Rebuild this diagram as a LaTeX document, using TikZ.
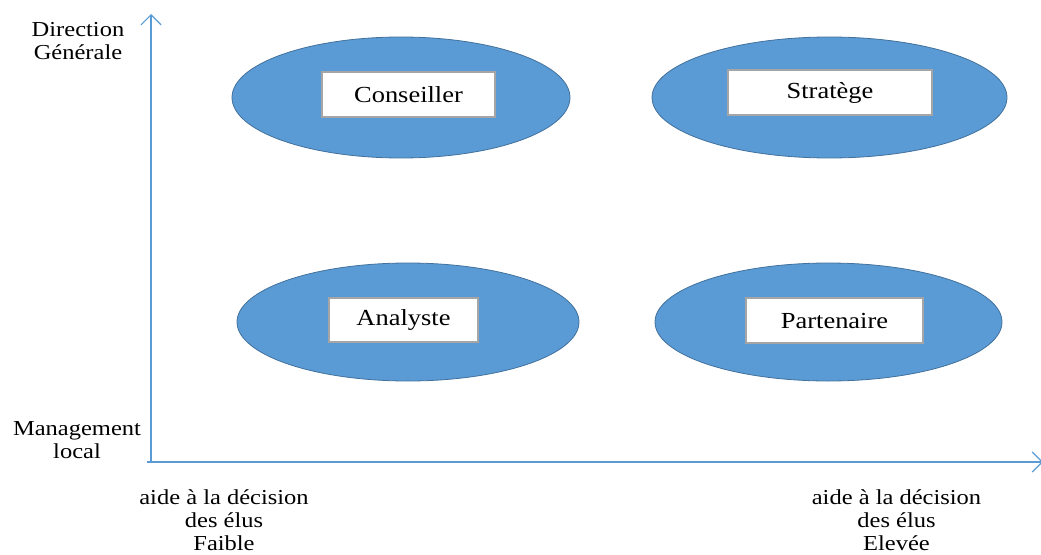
\documentclass[tikz,border=0pt]{standalone}
\usepackage{fontspec}
\setmainfont{Liberation Serif}[FakeStretch=1.15]
\usetikzlibrary{shapes.geometric,arrows.meta}
\definecolor{fillblue}{HTML}{5B9BD5}
\definecolor{edgeblue}{HTML}{41719C}
\definecolor{boxgray}{HTML}{A5A5A5}
\begin{document}
\begin{tikzpicture}[x=1pt,y=-1pt,
  oval/.style={ellipse,draw=edgeblue,fill=fillblue,line width=0.8pt,inner sep=0pt},
  labelbox/.style={draw=boxgray,fill=white,line width=1.2pt,inner sep=0pt,font=\fontsize{23}{26}\selectfont},
  axis/.style={draw=fillblue,line width=1.2pt,-{Straight Barb[length=10pt,width=20pt]}},
  axtext/.style={align=center,inner sep=0pt,font=\fontsize{21.3}{23}\selectfont}]
\useasboundingbox (0,0) rectangle (1041,554);
% ellipses
\node[oval,minimum width=338pt,minimum height=121pt] (e1) at (401,97.5) {};
\node[oval,minimum width=355pt,minimum height=121pt] (e2) at (829.5,97.5) {};
\node[oval,minimum width=342pt,minimum height=118pt] (e3) at (408,322) {};
\node[oval,minimum width=347pt,minimum height=118pt] (e4) at (828.5,322) {};
% labels
\node[labelbox,minimum width=173pt,minimum height=45pt] (b1) at (408.5,94.5) {Conseiller};
\node[labelbox,minimum width=204pt,minimum height=45pt] (b2) at (830,92.5) {Stratège};
\node[labelbox,minimum width=149pt,minimum height=44pt] (b3) at (403.5,320) {Analyste};
\node[labelbox,minimum width=177pt,minimum height=45pt] (b4) at (834.5,320.5) {Partenaire};
% axes
\coordinate (o) at (151,462);
\coordinate (ytop) at (151,14);
\coordinate (xstart) at (147,462);
\coordinate (xend) at (1043,462);
\draw[axis] (o) -- (ytop);
\draw[axis] (xstart) -- (xend);
% axis texts
\node[axtext] (dg) at (78,41) {Direction\\Générale};
\node[axtext] (ml) at (77,440.5) {Management\\local};
\node[axtext] (lo) at (224,520) {aide à la décision\\des élus\\Faible};
\node[axtext] (hi) at (896.5,520) {aide à la décision\\des élus\\Elevée};
\end{tikzpicture}
\end{document}
